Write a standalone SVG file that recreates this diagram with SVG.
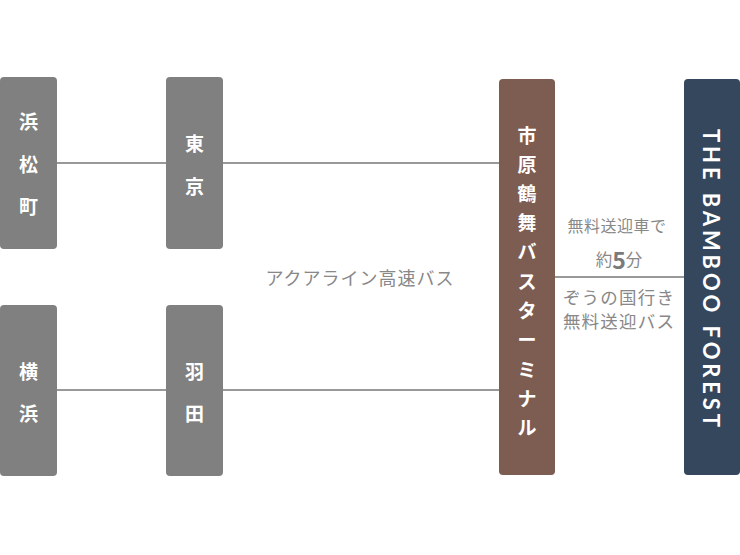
<svg xmlns="http://www.w3.org/2000/svg" width="740" height="555" viewBox="0 0 740 555">
<style>
.box{fill:#808080}
.lbl{font-family:"Noto Sans CJK JP","Noto Sans",sans-serif;font-weight:700;font-size:19px;fill:#fff;text-anchor:middle;dominant-baseline:central}
.cap{font-family:"Noto Sans CJK JP","Noto Sans",sans-serif;font-weight:400;fill:#888;text-anchor:middle;dominant-baseline:central}
.ln{stroke:#999;stroke-width:2;fill:none}
</style>
<rect width="740" height="555" fill="#fff"/>
<g id="connectors">
<line class="ln" x1="56" y1="163" x2="167" y2="163"/>
<line class="ln" x1="222" y1="163" x2="500" y2="163"/>
<line class="ln" x1="56" y1="390" x2="167" y2="390"/>
<line class="ln" x1="222" y1="390" x2="500" y2="390"/>
<line class="ln" x1="554" y1="277" x2="685" y2="277"/>
</g>
<g id="hamamatsucho">
<rect class="box" x="0" y="77" width="57" height="172" rx="4"/>
<text class="lbl" x="28.5" y="120">浜</text>
<text class="lbl" x="28.5" y="163">松</text>
<text class="lbl" x="28.5" y="205">町</text>
</g>
<g id="tokyo">
<rect class="box" x="166" y="77" width="57" height="172" rx="4"/>
<text class="lbl" x="194.5" y="142">東</text>
<text class="lbl" x="194.5" y="185">京</text>
</g>
<g id="yokohama">
<rect class="box" x="0" y="305" width="57" height="171" rx="4"/>
<text class="lbl" x="28.5" y="370">横</text>
<text class="lbl" x="28.5" y="412">浜</text>
</g>
<g id="haneda">
<rect class="box" x="166" y="305" width="57" height="171" rx="4"/>
<text class="lbl" x="194.5" y="370">羽</text>
<text class="lbl" x="194.5" y="412">田</text>
</g>
<g id="terminal">
<rect x="499" y="79" width="56" height="396" rx="4" fill="#7d5c51"/>
<text class="lbl" x="527" y="134">市</text>
<text class="lbl" x="527" y="163">原</text>
<text class="lbl" x="527" y="192">鶴</text>
<text class="lbl" x="527" y="221">舞</text>
<text class="lbl" x="527" y="250">バ</text>
<text class="lbl" x="527" y="280">ス</text>
<text class="lbl" x="527" y="309">タ</text>
<text class="lbl" x="527" y="338">ー</text>
<text class="lbl" x="527" y="368">ミ</text>
<text class="lbl" x="527" y="397">ナ</text>
<text class="lbl" x="527" y="426">ル</text>
</g>
<g id="forest">
<rect x="684" y="79" width="56" height="396" rx="4" fill="#34475c"/>
<text transform="translate(711,278) rotate(90)" x="0" y="0" text-anchor="middle" dominant-baseline="central" font-family="Lato,'Noto Sans',sans-serif" font-weight="700" font-size="22" fill="#fff" textLength="298" lengthAdjust="spacing">THE BAMBOO FOREST</text>
</g>
<g id="labels">
<text class="cap" x="360" y="277" font-size="18" letter-spacing="1">アクアライン高速バス</text>
<text class="cap" x="617" y="225" font-size="16" letter-spacing="0.5">無料送迎車で</text>
<text class="cap" x="619" y="259" font-size="16.5">約<tspan font-size="23" font-weight="700" fill="#7a7a7a">5</tspan>分</text>
<text class="cap" x="619" y="296" font-size="17.5" letter-spacing="1.2">ぞうの国行き</text>
<text class="cap" x="619" y="320.5" font-size="17.5" letter-spacing="1.2">無料送迎バス</text>
</g>
</svg>
